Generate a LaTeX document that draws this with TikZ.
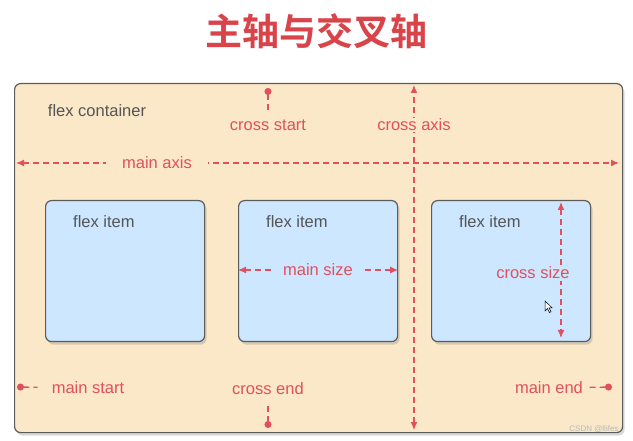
\documentclass[tikz,border=0pt]{standalone}
\usepackage{fontspec}
\setmainfont{Liberation Sans}
\newfontfamily\cjkbold{Noto Sans CJK SC Bold}
\usetikzlibrary{arrows.meta,shadows,positioning}
\definecolor{boxfill}{HTML}{FAE8C8}
\definecolor{itemfill}{HTML}{CCE7FF}
\definecolor{edgegray}{HTML}{5C5C5C}
\definecolor{axisred}{HTML}{E0505E}
\definecolor{titlered}{HTML}{D9444B}
\definecolor{textgray}{HTML}{555555}
\begin{document}
\begin{tikzpicture}[x=1pt, y=-1pt,
  panel/.style={draw=edgegray, line width=1.2pt, rounded corners=6pt, anchor=north west,
    drop shadow={opacity=0.3, shadow xshift=2pt, shadow yshift=-3pt}},
  container/.style={panel, fill=boxfill, minimum width=608pt, minimum height=349pt},
  item/.style={panel, fill=itemfill, minimum width=159pt, minimum height=141pt},
  graytext/.style={text=textgray, font=\fontsize{16.5}{19}\selectfont},
  redtext/.style={text=axisred, font=\fontsize{16.5}{19}\selectfont, inner sep=3pt},
  conn/.style={draw=axisred, line width=1.3pt, dash pattern=on 6pt off 4pt},
  twotip/.style={{Latex[length=8pt,width=7pt]}-{Latex[length=8pt,width=7pt]}},
  dot/.style={{Circle[length=7pt,width=7pt]}-}]
\useasboundingbox (0,0) rectangle (633,441);

% Title
\node[text=titlered, font=\cjkbold\fontsize{37}{40}\selectfont] (title) at (316,31) {主轴与交叉轴};

% Container and items
\node[container] (box) at (14,83) {};
\node[graytext] (boxlabel) at (97,111) {flex container};
\foreach \i/\x in {1/45, 2/238, 3/431} {
  \node[item] (item\i) at (\x,200) {};
  \node[graytext, below right=15pt and 28pt of item\i.north west, anchor=north west, inner sep=0pt] (itemlabel\i) {flex item};
}

% Main axis
\coordinate (ma left) at (16,163);
\coordinate (ma right) at (619,163);
\draw[conn, twotip] (ma left) -- (ma right);
\node[redtext, fill=boxfill, inner xsep=16pt] (mainaxis) at (157,163) {main axis};

% Cross axis
\coordinate (ca top) at (414,85);
\coordinate (ca bot) at (414,430);
\draw[conn, twotip] (ca bot) -- (ca top);
\node[redtext, fill=boxfill, inner ysep=1pt, inner xsep=0pt] (crossaxis) at (414,125) {cross axis};

% Cross start and cross end
\coordinate (cs dot) at (268,88);
\node[redtext] (crossstart) at (268,125) {cross start};
\draw[conn, dot, shorten >=4pt] (cs dot) -- (crossstart);
\coordinate (ce dot) at (268,428);
\node[redtext] (crossend) at (268,389) {cross end};
\draw[conn, dot, shorten >=5pt] (ce dot) -- (crossend);

% Main start and main end
\coordinate (ms dot) at (17,387);
\node[redtext] (mainstart) at (88,388) {main start};
\draw[conn, dot, shorten >=11pt] (ms dot) -- (mainstart);
\coordinate (me dot) at (612,387);
\node[redtext] (mainend) at (549,388) {main end};
\draw[conn, dot, shorten >=3pt] (me dot) -- (mainend);

% Main size
\draw[conn, twotip] (item2.west |- 0,270) -- (item2.east |- 0,270);
\node[redtext, fill=itemfill, inner xsep=8pt] (mainsize) at (318,270) {main size};

% Cross size
\draw[conn, twotip] (561,202) -- (561,338);
\node[redtext, fill=itemfill, inner xsep=0pt, inner ysep=2pt] (crosssize) at (533,273) {cross size};

% Mouse pointer
\draw[fill=white, line width=0.5pt] (545,301) -- (545,311) -- (547.5,308.5) -- (549.5,312.5) -- (551,311.8) -- (549,307.8) -- (552,307.8) -- cycle;

% Watermark
\node[text=gray!55, font=\fontsize{8}{9}\selectfont, anchor=east] (mark) at (622,429) {CSDN @llifes};
\end{tikzpicture}
\end{document}
